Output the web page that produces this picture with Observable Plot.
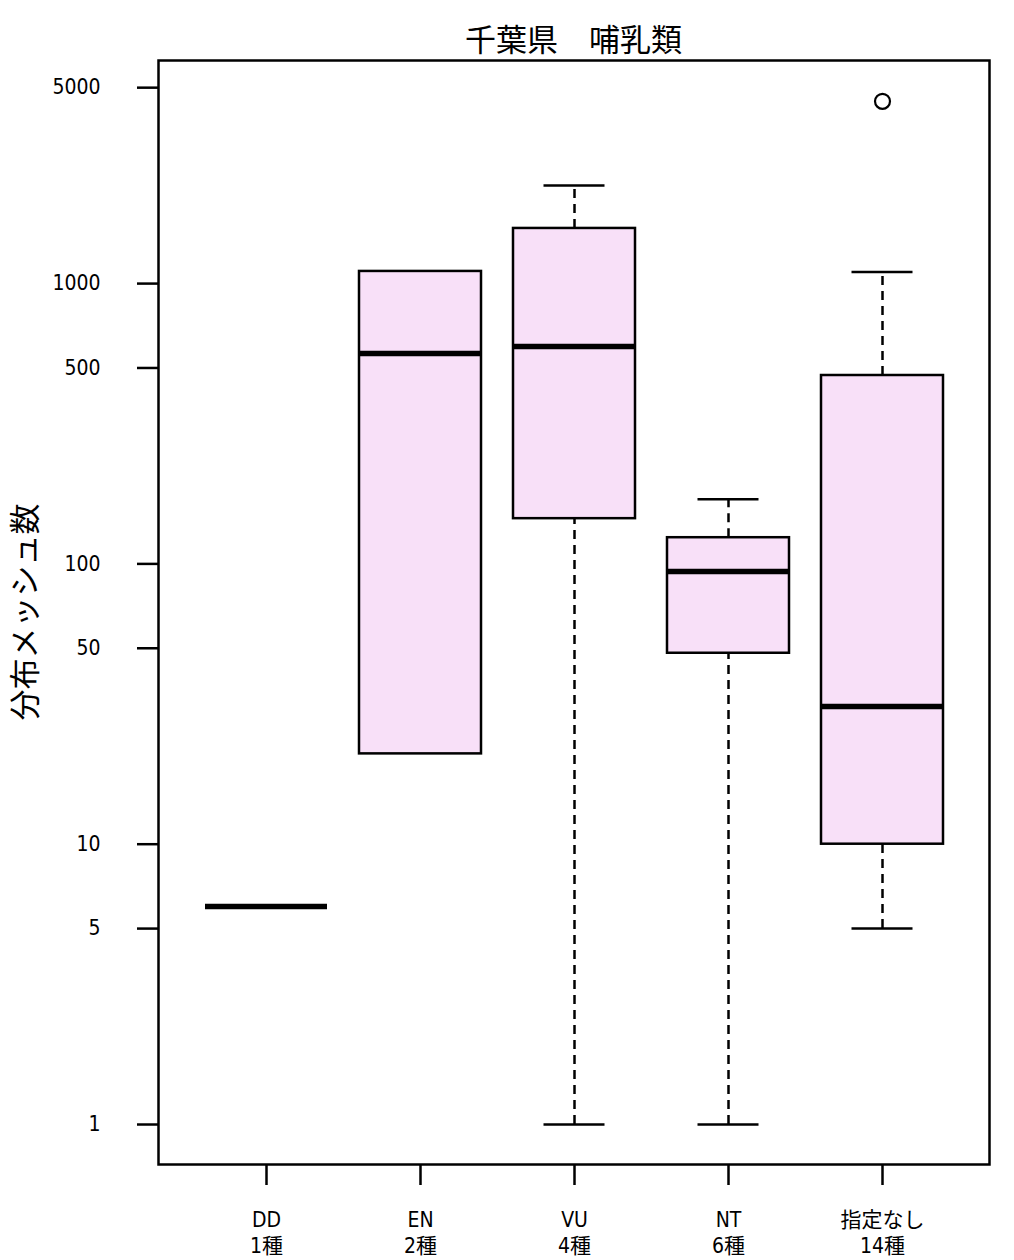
<!DOCTYPE html>
<html>
<head>
<meta charset="utf-8">
<script src="https://cdn.jsdelivr.net/npm/d3@7"></script>
<script src="https://cdn.jsdelivr.net/npm/@observablehq/plot@0.6"></script>
<style>
  body { margin: 0; background: #fff; }
  #chart svg { display: block; }
</style>
</head>
<body>
<div id="chart"></div>
<script>
// ---- data ----
const categories = ["DD", "EN", "VU", "NT", "指定なし"];
const speciesCounts = [1, 2, 4, 6, 14];
const whiskerLow = [6, 21, 1, 1, 5];
const lowerHinge = [6, 21, 145, 48, 10];
const medians = [6, 563, 597, 94, 31];
const upperHinge = [6, 1105, 1573, 124, 470];
const whiskerHigh = [6, 1105, 2240, 170, 1100];
const outlierCategory = ["指定なし"];
const outlierValue = [4470];
const yTicks = [1, 5, 10, 50, 100, 500, 1000, 5000];
const yTickLabels = ["1", "5", "10", "50", "100", "500", "1000", "5000"];
const titleText = "千葉県　哺乳類";
const yLabelText = "分布メッシュ数";

const stats = categories.map((c, i) => ({
  cat: c, n: speciesCounts[i], lo: whiskerLow[i], q1: lowerHinge[i],
  med: medians[i], q3: upperHinge[i], hi: whiskerHigh[i]
}));
const outliers = outlierCategory.map((c, i) => ({cat: c, value: outlierValue[i]}));
const countOf = new Map(categories.map((c, i) => [c, speciesCounts[i]]));
const yTickData = yTicks.map((v, i) => ({v, label: yTickLabels[i]}));

const W = 1014, H = 1260;
const boxFill = "#f8e0f8";
const lw = 2.5;
const tickFont = "'DejaVu Sans Condensed', 'Noto Sans CJK JP', sans-serif";

const chart = Plot.plot({
  width: W,
  height: H,
  marginLeft: 158,
  marginRight: 25,
  marginTop: 60,
  marginBottom: 96,
  style: {fontFamily: tickFont, fontSize: "21px", color: "#000", background: "#fff"},
  x: {type: "band", domain: categories, paddingInner: 0.208, paddingOuter: 0.302},
  y: {type: "log", domain: [0.72, 6250]},
  marks: [
    // whiskers (dashed)
    Plot.ruleX(stats.filter(d => d.hi > d.q3), {x: "cat", y1: "q3", y2: "hi", stroke: "#000", strokeWidth: lw, strokeDasharray: "9,6"}),
    Plot.ruleX(stats.filter(d => d.lo < d.q1), {x: "cat", y1: "lo", y2: "q1", stroke: "#000", strokeWidth: lw, strokeDasharray: "9,6"}),
    // whisker caps
    Plot.tickY(stats.filter(d => d.hi > d.q3), {x: "cat", y: "hi", stroke: "#000", strokeWidth: lw, inset: 30.5}),
    Plot.tickY(stats.filter(d => d.lo < d.q1), {x: "cat", y: "lo", stroke: "#000", strokeWidth: lw, inset: 30.5}),
    // boxes
    Plot.barY(stats.filter(d => d.q3 > d.q1), {x: "cat", y1: "q1", y2: "q3", fill: boxFill, stroke: "#000", strokeWidth: lw}),
    // medians
    Plot.tickY(stats, {x: "cat", y: "med", stroke: "#000", strokeWidth: 5.5}),
    // outliers
    Plot.dot(outliers, {x: "cat", y: "value", r: 7.5, stroke: "#000", strokeWidth: 2.2, fill: "none"}),
    // y axis: ticks + labels
    Plot.axisY({ticks: yTicks, tickSize: 21, strokeWidth: lw, text: null, label: null}),
    Plot.text(yTickData, {y: "v", text: "label", frameAnchor: "left", dx: -58, textAnchor: "end",
      fontSize: 21, fill: "#000"}),
    // x axis
    Plot.axisX({tickSize: 21, tickPadding: 23, strokeWidth: lw, fontSize: 21, lineHeight: 1.24,
      tickFormat: c => `${c}\n${countOf.get(c)}種`, label: null}),
    Plot.frame({stroke: "#000", strokeWidth: lw})
  ]
});

document.getElementById("chart").appendChild(chart);

const svg = d3.select(chart);
svg.append("text")
  .attr("x", (158 + (W - 25)) / 2)
  .attr("y", 51)
  .attr("text-anchor", "middle")
  .style("font-family", "'Noto Sans CJK JP', sans-serif")
  .style("font-size", "31px")
  .attr("fill", "#000")
  .text(titleText);
svg.append("text")
  .attr("transform", `translate(36, ${(60 + H - 96) / 2}) rotate(-90)`)
  .attr("text-anchor", "middle")
  .style("font-family", "'Noto Sans CJK JP', sans-serif")
  .style("font-size", "31px")
  .attr("fill", "#000")
  .text(yLabelText);
</script>
</body>
</html>
